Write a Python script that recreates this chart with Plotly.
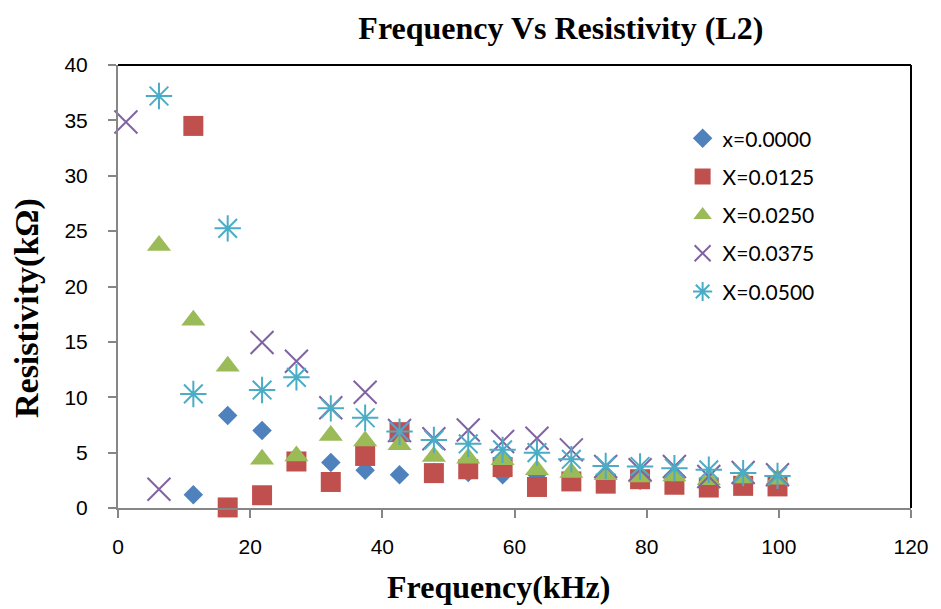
import plotly.graph_objects as go

freq = [1.2, 6.2, 11.4, 16.6, 21.8, 27.0, 32.2, 37.4, 42.6, 47.8,
        53.0, 58.2, 63.4, 68.6, 73.8, 79.0, 84.2, 89.4, 94.6, 99.8]

# None = no point for that frequency
res_x0000 = [None, None, 1.2, 8.35, 7.0, 4.3, 4.1, 3.4, 3.0, 3.2,
             3.2, 3.0, 3.0, 2.8, 2.7, 2.5, 2.4, 2.3, 2.2, 2.1]
res_x0125 = [None, None, 34.5, 0.05, 1.15, 4.2, 2.35, 4.7, 6.85, 3.15,
             3.5, 3.7, 1.9, 2.4, 2.2, 2.6, 2.1, 1.85, 2.0, 1.95]
res_x0250 = [None, 23.7, 16.95, 12.8, 4.4, 4.7, 6.55, 6.05, 5.7, 4.65,
             4.5, 4.35, 3.45, 3.2, 3.0, 2.8, 2.9, 2.55, 2.7, 2.6]
res_x0375 = [34.85, 1.7, None, None, 14.95, 13.25, 9.05, 10.45, 7.0, 6.25,
             7.05, 6.0, 6.3, 5.25, 3.75, 3.45, 3.75, 2.85, 3.2, 3.0]
res_x0500 = [None, 37.2, 10.3, 25.25, 10.65, 11.8, 9.0, 8.15, 6.9, 6.15,
             5.8, 5.25, 5.0, 4.4, 3.8, 3.75, 3.6, 3.45, 3.15, 2.9]

series_names = ["x=0.0000", "X=0.0125", "X=0.0250", "X=0.0375", "X=0.0500"]
series_values = [res_x0000, res_x0125, res_x0250, res_x0375, res_x0500]
colors = ["#4F81BD", "#C0504D", "#9BBB59", "#8064A2", "#4BACC6"]
symbols = ["diamond", "square", "triangle-up", "x-thin-open", "asterisk-open"]
sizes = [15, 20, 21, 23, 22]

x_ticks = [0, 20, 40, 60, 80, 100, 120]
y_ticks = [0, 5, 10, 15, 20, 25, 30, 35, 40]

fig = go.Figure()
for i, (name, vals) in enumerate(zip(series_names, series_values)):
    xs = [f for f, v in zip(freq, vals) if v is not None]
    ys = [v for v in vals if v is not None]
    open_sym = symbols[i].endswith("open")
    fig.add_trace(go.Scatter(
        x=xs, y=ys, mode="markers", name=name, legendgroup=name,
        marker=dict(symbol=symbols[i], size=sizes[i], color=colors[i],
                    line=dict(color=colors[i], width=2 if open_sym else 0)),
        cliponaxis=False,
    ))

axis_font = dict(family="Liberation Sans, Arial", size=21, color="#000000")
fig.update_xaxes(range=[0, 120], tickvals=x_ticks, ticks="outside", ticklen=8,
                 tickwidth=2, tickcolor="#868686", showline=True, linecolor="#868686",
                 linewidth=2, showgrid=False, zeroline=False, tickfont=axis_font,
                 ticklabelstandoff=11)
fig.update_yaxes(range=[0, 40], tickvals=y_ticks, ticks="outside", ticklen=8,
                 tickwidth=2, tickcolor="#868686", showline=True, linecolor="#868686",
                 linewidth=2, showgrid=False, zeroline=False, tickfont=axis_font,
                 ticklabelstandoff=16)

title_font = dict(family="Liberation Serif, Times New Roman", size=32, color="#000000")
fig.update_layout(
    width=941, height=609,
    margin=dict(l=118, r=25, t=65, b=101),
    paper_bgcolor="white", plot_bgcolor="white",
    title=dict(text="<b>Frequency Vs Resistivity (L2)</b>", x=0.596, xref="container",
               xanchor="center", y=0.955, yref="container", yanchor="middle",
               font=title_font),
    legend=dict(x=0.712, y=0.88, xanchor="left", yanchor="top",
                font=dict(family="Lato, Carlito, Calibri", size=21, color="#000000"),
                bgcolor="rgba(0,0,0,0)", tracegroupgap=8, itemwidth=30),
    shapes=[
        dict(type="line", xref="paper", yref="paper", x0=0, x1=1, y0=1, y1=1,
             line=dict(color="black", width=2)),
        dict(type="line", xref="paper", yref="paper", x0=1, x1=1, y0=0, y1=1,
             line=dict(color="black", width=2)),
    ],
    annotations=[
        dict(text="<b>Frequency(kHz)</b>", xref="paper", yref="paper", x=0.48, y=-0.178,
             xanchor="center", yanchor="middle", showarrow=False, font=title_font),
        dict(text="<b>Resistivity(kΩ)</b>", xref="paper", yref="paper", x=-0.115, y=0.451,
             xanchor="center", yanchor="middle", showarrow=False, textangle=-90,
             font=dict(family="Liberation Serif, Times New Roman", size=34, color="#000000")),
    ],
)

fig.write_html("out.html")
